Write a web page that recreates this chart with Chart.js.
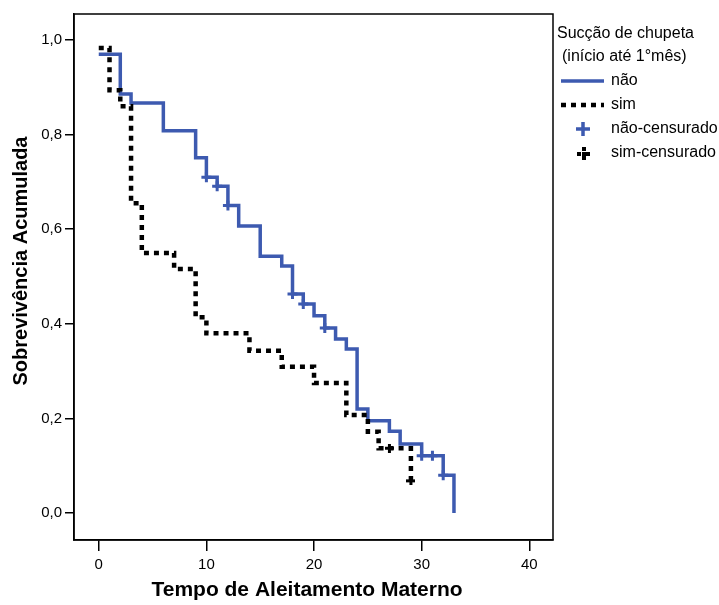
<!DOCTYPE html>
<html>
<head>
<meta charset="utf-8">
<script src="https://cdn.jsdelivr.net/npm/chart.js@4.4.1/dist/chart.umd.min.js"></script>
<style>
  html, body { margin: 0; padding: 0; background: #fff; }
  #grafico { display: block; }
</style>
</head>
<body>
<canvas id="grafico" width="719" height="605"></canvas>
<script>
// Kaplan-Meier: tempo (meses) e sobrevivência acumulada
const naoTempo = [0, 2, 3, 6, 9, 10, 11, 12, 13, 15, 17, 18, 19, 20, 21, 22, 23, 24, 25, 27, 28, 30, 32, 33];
const naoSobrev = [0.970, 0.886, 0.867, 0.808, 0.751, 0.710, 0.691, 0.650, 0.607, 0.543, 0.522, 0.463, 0.442, 0.417, 0.391, 0.368, 0.347, 0.220, 0.195, 0.173, 0.146, 0.121, 0.080, 0.0];

const simTempo = [0, 1, 2, 3, 4, 7, 9, 10, 14, 17, 20, 23, 25, 26, 29];
const simSobrev = [0.983, 0.894, 0.860, 0.655, 0.550, 0.516, 0.414, 0.380, 0.343, 0.309, 0.275, 0.207, 0.172, 0.137, 0.068];

// casos censurados
const naoCensTempo = [10, 11, 12, 18, 19, 21, 30, 31, 32];
const naoCensSobrev = [0.710, 0.691, 0.650, 0.463, 0.442, 0.391, 0.121, 0.121, 0.080];
const simCensTempo = [27, 29];
const simCensSobrev = [0.137, 0.068];

const xTicks = [0, 10, 20, 30, 40];
const yTicks = [0, 0.2, 0.4, 0.6, 0.8, 1.0];

const legendaTitulo = ["Sucção de chupeta", "(início até 1°mês)"];
const legendaNomes = ["não", "sim", "não-censurado", "sim-censurado"];

const AZUL = "#3d5ab0";
const FONTE = "'Liberation Sans', Arial, sans-serif";

const pares = (xs, ys) => xs.map((x, i) => ({ x: x, y: ys[i] }));

// cruz "tracejada" para os censurados do grupo sim
function cruzTracejada(tam, bloco) {
  const c = document.createElement("canvas");
  c.width = tam;
  c.height = tam;
  const g = c.getContext("2d");
  g.fillStyle = "#000";
  const m = Math.round((tam - bloco) / 2);
  g.fillRect(m, 0, bloco, bloco);
  g.fillRect(m, tam - bloco, bloco, bloco);
  g.fillRect(0, m, bloco, bloco);
  g.fillRect(tam - bloco, m, bloco, bloco);
  g.fillRect(m, m, bloco, bloco);
  return c;
}
const cruzPlot = cruzTracejada(9, 3);
const cruzLegenda = cruzTracejada(13, 4);

const moldura = {
  id: "moldura",
  afterDatasetsDraw(chart) {
    const { ctx, chartArea: a } = chart;
    ctx.save();
    ctx.strokeStyle = "#000";
    ctx.lineWidth = 1.5;
    ctx.strokeRect(a.left, a.top, a.right - a.left, a.bottom - a.top);
    ctx.restore();
  },
};

const textos = {
  id: "textos",
  afterDraw(chart) {
    const ctx = chart.ctx;
    const ds = chart.data.datasets;
    ctx.save();
    ctx.fillStyle = "#000";

    // títulos dos eixos
    ctx.font = "bold 21px " + FONTE;
    ctx.textAlign = "center";
    ctx.textBaseline = "middle";
    ctx.fillText("Tempo de Aleitamento Materno", 307, 590);
    ctx.save();
    ctx.translate(21, 261);
    ctx.rotate(-Math.PI / 2);
    ctx.font = "bold 20px " + FONTE;
    ctx.fillText("Sobrevivência Acumulada", 0, 0);
    ctx.restore();

    // legenda
    ctx.font = "16px " + FONTE;
    ctx.textAlign = "left";
    ctx.fillText(legendaTitulo[0], 557, 34);
    ctx.fillText(legendaTitulo[1], 562, 57);

    const xs = 561, xe = 604, xt = 611;
    const ys = [81, 105, 129, 153];

    ctx.lineWidth = ds[0].borderWidth;
    ctx.strokeStyle = ds[0].borderColor;
    ctx.beginPath();
    ctx.moveTo(xs, ys[0]);
    ctx.lineTo(xe, ys[0]);
    ctx.stroke();

    ctx.lineWidth = ds[1].borderWidth;
    ctx.strokeStyle = ds[1].borderColor;
    ctx.setLineDash(ds[1].borderDash);
    ctx.beginPath();
    ctx.moveTo(xs, ys[1]);
    ctx.lineTo(xe, ys[1]);
    ctx.stroke();
    ctx.setLineDash([]);

    ctx.lineWidth = 3.5;
    ctx.strokeStyle = ds[2].borderColor;
    ctx.beginPath();
    ctx.moveTo(576, ys[2]);
    ctx.lineTo(590, ys[2]);
    ctx.moveTo(583, ys[2] - 7);
    ctx.lineTo(583, ys[2] + 7);
    ctx.stroke();

    ctx.drawImage(cruzLegenda, 583 - 6, ys[3] - 6);

    legendaNomes.forEach((n, i) => ctx.fillText(n, xt, ys[i]));
    ctx.restore();
  },
};

new Chart(document.getElementById("grafico"), {
  type: "line",
  data: {
    datasets: [
      {
        label: legendaNomes[0],
        data: pares(naoTempo, naoSobrev),
        borderColor: AZUL,
        borderWidth: 3.5,
        stepped: true,
        pointRadius: 0,
        fill: false,
        order: 2,
      },
      {
        label: legendaNomes[1],
        data: pares(simTempo, simSobrev),
        borderColor: "#000",
        borderWidth: 4.5,
        borderDash: [5, 5],
        stepped: true,
        pointRadius: 0,
        fill: false,
        order: 1,
      },
      {
        label: legendaNomes[2],
        data: pares(naoCensTempo, naoCensSobrev),
        showLine: false,
        borderColor: AZUL,
        borderWidth: 3,
        pointStyle: "cross",
        pointRadius: 5,
        order: 0,
      },
      {
        label: legendaNomes[3],
        data: pares(simCensTempo, simCensSobrev),
        showLine: false,
        pointStyle: cruzPlot,
        pointRadius: 5,
        order: 0,
      },
    ],
  },
  options: {
    responsive: false,
    animation: false,
    layout: { padding: { left: 0, top: 14, right: 166, bottom: 0 } },
    plugins: {
      legend: { display: false },
      tooltip: { enabled: false },
    },
    scales: {
      x: {
        type: "linear",
        min: -2.3,
        max: 42.2,
        afterBuildTicks: (s) => { s.ticks = xTicks.map((v) => ({ value: v })); },
        afterFit: (s) => { s.height = 65; },
        grid: { drawOnChartArea: false, drawTicks: true, tickLength: 11, color: "#000", lineWidth: 1.5 },
        border: { display: true, color: "#000", width: 1.5 },
        ticks: { color: "#000", padding: 5, font: { family: FONTE, size: 15 }, maxRotation: 0 },
      },
      y: {
        type: "linear",
        min: -0.057,
        max: 1.055,
        afterBuildTicks: (s) => { s.ticks = yTicks.map((v) => ({ value: v })); },
        afterFit: (s) => { s.width = 74; },
        grid: { drawOnChartArea: false, drawTicks: true, tickLength: 9, color: "#000", lineWidth: 1.5 },
        border: { display: true, color: "#000", width: 1.5 },
        ticks: {
          color: "#000",
          padding: 3,
          font: { family: FONTE, size: 15 },
          callback: (v) => v.toFixed(1).replace(".", ","),
        },
      },
    },
  },
  plugins: [moldura, textos],
});
</script>
</body>
</html>
